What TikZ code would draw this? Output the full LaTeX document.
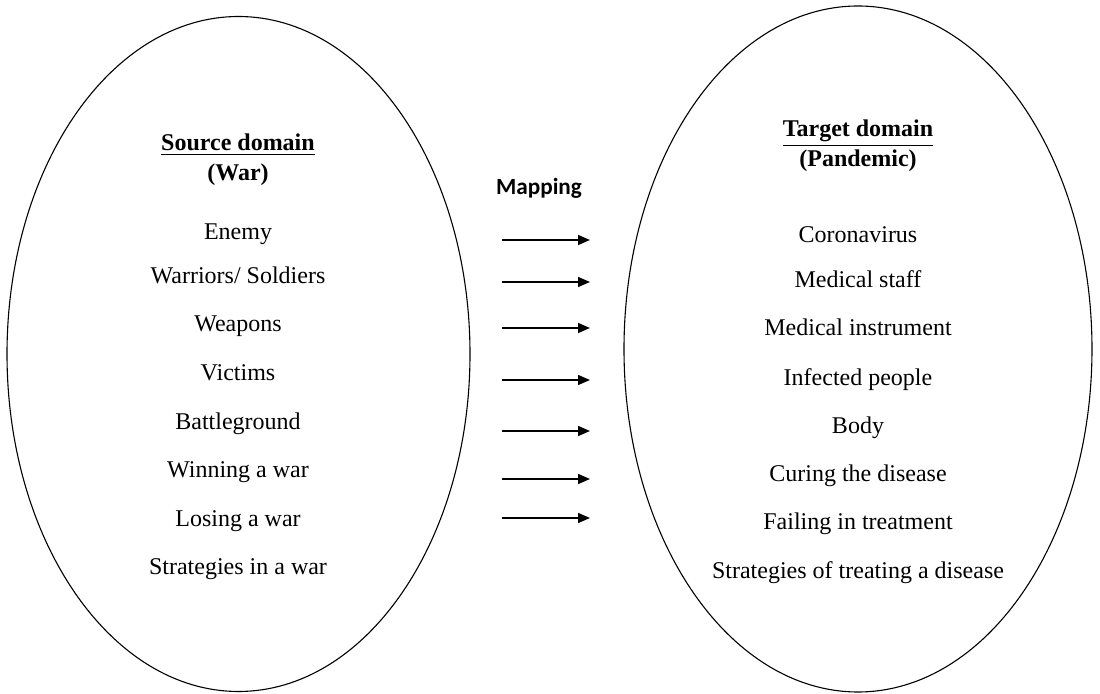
\documentclass[tikz,border=0pt]{standalone}
\usepackage{fontspec}
\setmainfont{Liberation Serif}[Ligatures=TeX]
\newfontfamily\timesfont{Liberation Serif}
\newfontfamily\mapfont{Carlito}
\usetikzlibrary{shapes.geometric,arrows.meta}
\begin{document}
\begin{tikzpicture}[x=0.5pt,y=-0.5pt,
  domainoval/.style={draw=black, line width=0.55pt, ellipse, inner sep=0pt},
  itemtext/.style={anchor=base, inner sep=0pt, font=\timesfont\fontsize{12}{14}\selectfont},
  headtext/.style={anchor=base, inner sep=0pt, font=\timesfont\bfseries\fontsize{12}{14}\selectfont},
  maparrow/.style={line width=0.7pt, -{Triangle[length=6pt,width=5pt]}}]
\useasboundingbox (0,0) rectangle (1100,694);
% domains
\node[domainoval, minimum width=231.5pt, minimum height=337.5pt] (src) at (238.5,354) {};
\node[domainoval, minimum width=234pt, minimum height=343pt] (tgt) at (858,349) {};
% source headings
\node[headtext] (srch) at (238,151) {\underline{Source domain}};
\node[headtext] (srcw) at (238,181) {(War)};
% target headings
\node[headtext] (tgth) at (858,137) {\underline{Target domain}};
\node[headtext] (tgtp) at (858,167) {(Pandemic)};
% mapping
\node[anchor=base, inner sep=0pt, font=\mapfont\bfseries\fontsize{11.6}{14}\selectfont] (map) at (539,195) {Mapping};
% source items
\node[itemtext] (s1) at (238,240) {Enemy};
\node[itemtext] (s2) at (238,284) {Warriors/ Soldiers};
\node[itemtext] (s3) at (238,332) {Weapons};
\node[itemtext] (s4) at (238,381) {Victims};
\node[itemtext] (s5) at (238,430) {Battleground};
\node[itemtext] (s6) at (238,478) {Winning a war};
\node[itemtext] (s7) at (238,527) {Losing a war};
\node[itemtext] (s8) at (238,575) {Strategies in a war};
% target items
\node[itemtext] (t1) at (858,243) {Coronavirus};
\node[itemtext] (t2) at (858,288) {Medical staff};
\node[itemtext] (t3) at (858,336) {Medical instrument};
\node[itemtext] (t4) at (858,386) {Infected people};
\node[itemtext] (t5) at (858,434) {Body};
\node[itemtext] (t6) at (858,482) {Curing the disease};
\node[itemtext] (t7) at (858,530) {Failing in treatment};
\node[itemtext] (t8) at (858,579) {Strategies of treating a disease};
% arrows
\foreach \i/\yy in {1/240,2/282,3/328,4/380,5/431,6/479,7/518}{
  \coordinate (a\i s) at (502,\yy);
  \coordinate (a\i e) at (590,\yy);
  \draw[maparrow] (a\i s) -- (a\i e);
}
\end{tikzpicture}
\end{document}
